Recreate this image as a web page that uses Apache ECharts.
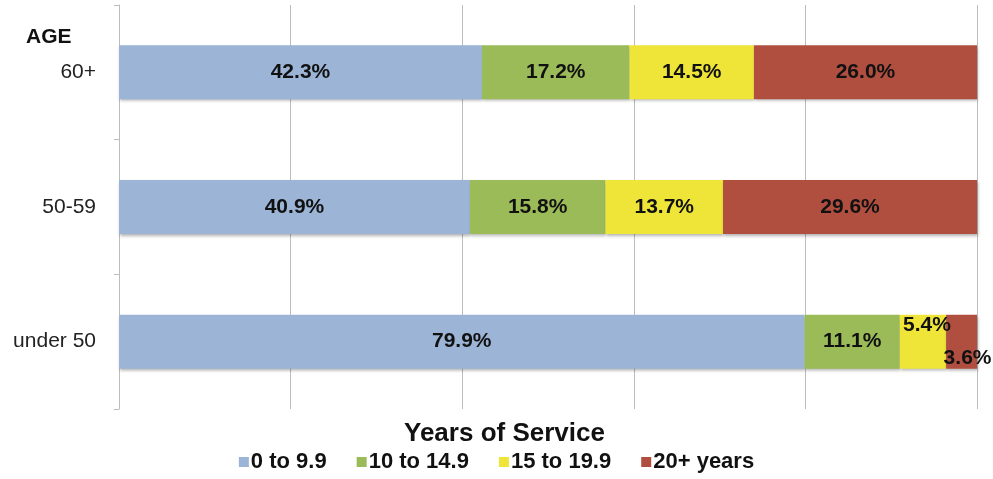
<!DOCTYPE html>
<html>
<head>
<meta charset="utf-8">
<script src="https://cdn.jsdelivr.net/npm/echarts@6/dist/echarts.min.js"></script>
<style>
html,body{margin:0;padding:0;background:#fff;}
#chart{width:993px;height:479px;}
</style>
</head>
<body>
<div id="chart"></div>
<script>
// bottom to top
var ages = ['under 50', '50-59', '60+'];
var band1 = [79.9, 40.9, 42.3];   // 0 to 9.9
var band2 = [11.1, 15.8, 17.2];   // 10 to 14.9
var band3 = [5.4, 13.7, 14.5];    // 15 to 19.9
var band4 = [3.6, 29.6, 26.0];    // 20+ years
var xTicks = [0, 20, 40, 60, 80, 100];

window.onload = function(){
	var myChart = echarts.init(document.getElementById('chart'));
	var font = '"Liberation Sans", Arial, sans-serif';
	var shadow = {shadowBlur: 3, shadowOffsetY: 2, shadowOffsetX: 1, shadowColor: 'rgba(0,0,0,0.3)'};

	function mkSeries(name, values, color){
		return {
			name: name,
			type: 'bar',
			stack: 'all',
			barWidth: 54,
			data: values.map(function(v){ return {value: v}; }),
			itemStyle: Object.assign({color: color}, shadow),
			label: {
				show: true,
				position: 'inside',
				formatter: function(p){ return p.value.toFixed(1) + '%'; },
				color: '#111',
				fontWeight: 'bold',
				fontSize: 21,
				fontFamily: font
			}
		};
	}

	var s1 = mkSeries('0 to 9.9', band1, '#9cb4d5');
	var s2 = mkSeries('10 to 14.9', band2, '#9bbb59');
	var s3 = mkSeries('15 to 19.9', band3, '#efe538');
	var s4 = mkSeries('20+ years', band4, '#b04f40');
	// small segments in the under-50 row: labels pushed up / down
	s3.data[0].label = {offset: [4, -16]};
	s4.data[0].label = {offset: [6, 17]};

	var option = {
		animation: false,
		textStyle: {fontFamily: font},
		grid: {left: 119, right: 16, top: 5, bottom: 70},
		graphic: [
			{type: 'text', left: 26, top: 27, style: {text: 'AGE', font: 'bold 21px ' + font, fill: '#111'}},
			{type: 'text', left: 404, top: 421, style: {text: 'Years of Service', font: 'bold 26px ' + font, fill: '#111'}}
		],
		legend: {
			bottom: 1,
			left: 'center',
			itemWidth: 10,
			itemHeight: 10,
			itemGap: 30,
			icon: 'rect',
			textStyle: {fontSize: 22, fontWeight: 'bold', color: '#111', fontFamily: font, padding: [0, 0, 0, -3]},
			data: ['0 to 9.9', '10 to 14.9', '15 to 19.9', '20+ years']
		},
		xAxis: {
			type: 'value',
			min: xTicks[0],
			max: xTicks[xTicks.length - 1],
			interval: 20,
			axisLabel: {show: false},
			axisLine: {show: false},
			axisTick: {show: false},
			splitLine: {lineStyle: {color: '#bdbdbd', width: 1}}
		},
		yAxis: {
			type: 'category',
			data: ages,
			axisLine: {lineStyle: {color: '#bdbdbd'}},
			axisTick: {show: true, length: 5, lineStyle: {color: '#bdbdbd'}},
			axisLabel: {fontSize: 21, color: '#222', margin: 23, fontFamily: font}
		},
		series: [s1, s2, s3, s4]
	};
	myChart.setOption(option);
	window.addEventListener('resize', function(){ myChart.resize(); });
};
</script>
</body>
</html>
